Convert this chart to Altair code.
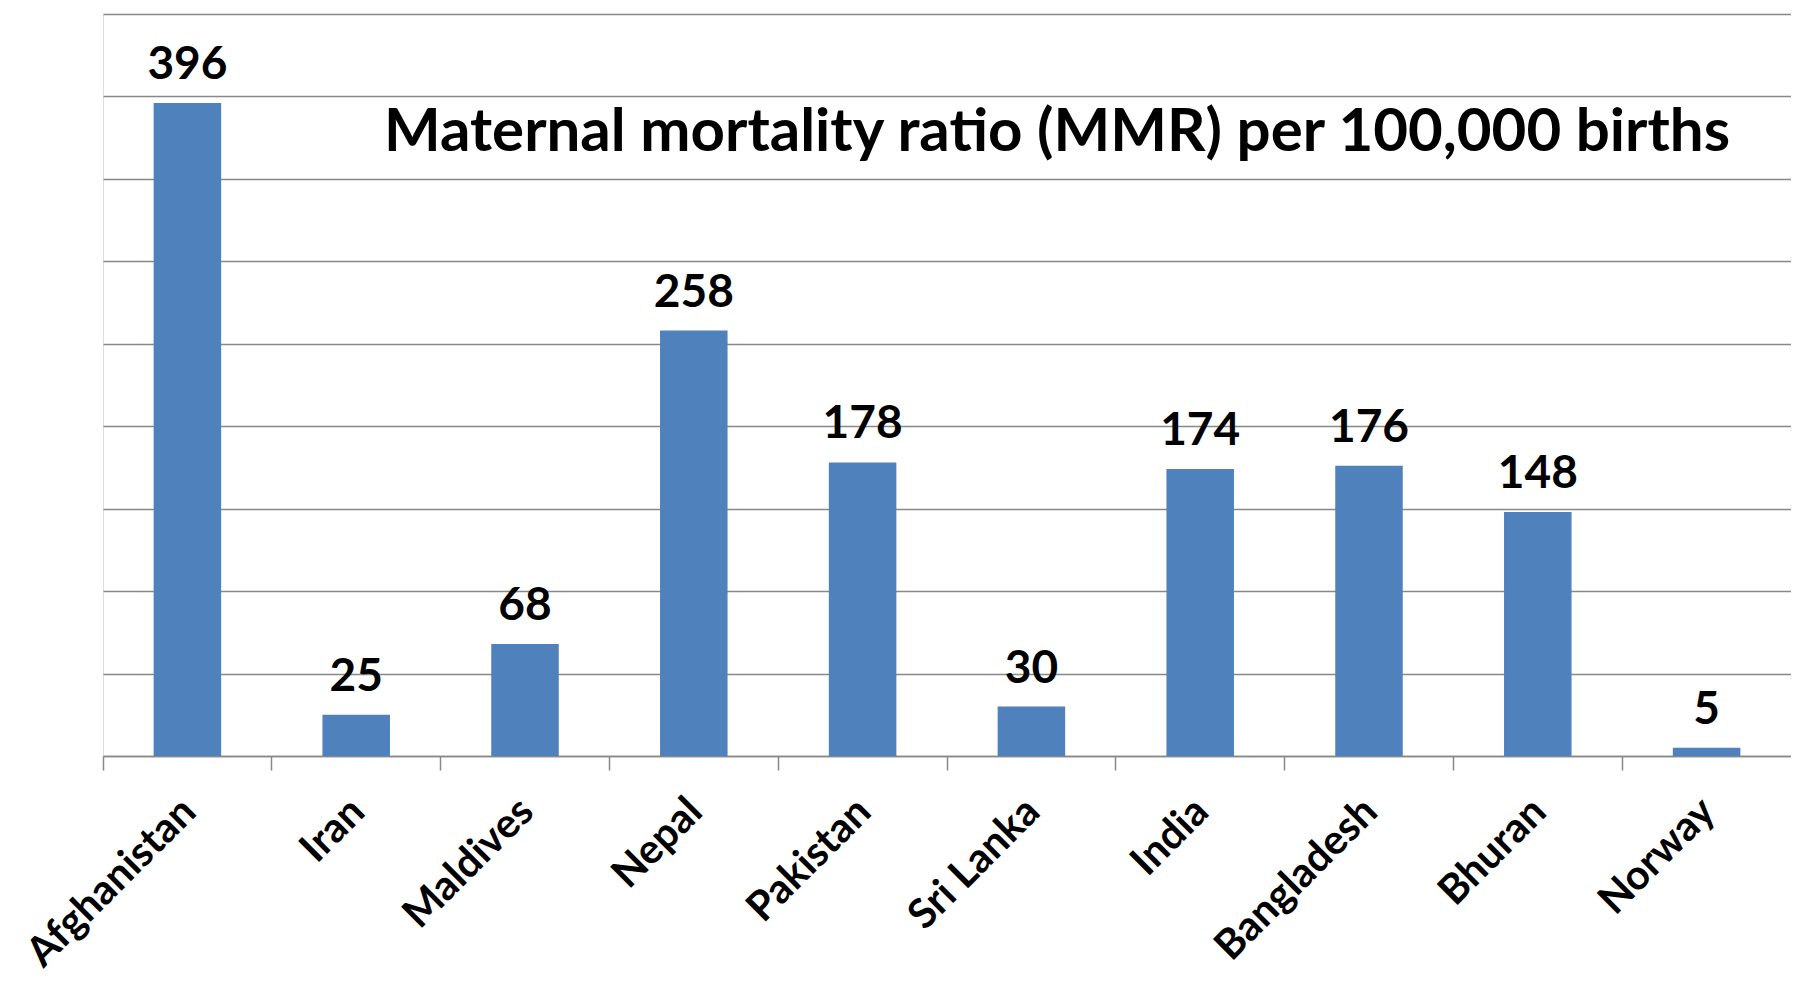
import altair as alt
import pandas as pd

countries = ["Afghanistan", "Iran", "Maldives", "Nepal", "Pakistan", "Sri Lanka",
             "India", "Bangladesh", "Bhuran", "Norway"]
mmr = [396, 25, 68, 258, 178, 30, 174, 176, 148, 5]
y_ticks = [0, 50, 100, 150, 200, 250, 300, 350, 400, 450]
title_text = "Maternal mortality ratio (MMR) per 100,000 births"

df = pd.DataFrame({"country": countries, "mmr": mmr})

FONT = "Lato"
W = 1688
H = 742

x_enc = alt.X(
    "country:N",
    sort=countries,
    title=None,
    scale=alt.Scale(paddingInner=0, paddingOuter=0),
    axis=alt.Axis(
        bandPosition=0,
        labelAngle=-45,
        labelAlign="right",
        labelBaseline="top",
        labelOffset=-12,
        labelFont=FONT,
        labelFontSize=41,
        labelFontWeight="bold",
        labelColor="#000000",
        labelPadding=21,
        labelLimit=0,
        tickSize=14,
        tickColor="#888888",
        tickWidth=1.5,
        domainColor="#888888",
        domainWidth=1.5,
        grid=False,
        labelOverlap=False,
    ),
)
y_enc = alt.Y(
    "mmr:Q",
    title=None,
    scale=alt.Scale(domain=[0, 450], nice=False),
    axis=alt.Axis(
        values=y_ticks,
        labels=False,
        ticks=False,
        domain=False,
        grid=True,
        gridColor="#888888",
        gridWidth=1.5,
    ),
)

bars = alt.Chart(df).mark_bar(
    color="#4F81BD", width=alt.RelativeBandSize(0.4)
).encode(x=x_enc, y=y_enc)

labels = alt.Chart(df).mark_text(
    font=FONT, fontSize=46, fontWeight="bold", color="#000000",
    baseline="alphabetic", align="center", dy=-24,
).encode(
    x=alt.X("country:N", sort=countries),
    y=alt.Y("mmr:Q"),
    text=alt.Text("mmr:Q"),
)

chart = alt.layer(bars, labels).properties(
    width=W,
    height=H,
    title=alt.TitleParams(
        text=title_text,
        anchor="end",
        frame="group",
        orient="top",
        offset=0,
        baseline="alphabetic",
        dy=197,
        dx=-61,
        font=FONT,
        fontSize=60,
        fontWeight="bold",
        color="#000000",
    ),
    autosize=alt.AutoSizeParams(type="none"),
    padding={"left": 95, "top": 6, "right": 0, "bottom": 222},
).configure_view(stroke=None).configure(background="#ffffff")

chart.save("out.html", embed_options={"renderer": "svg", "actions": False})
